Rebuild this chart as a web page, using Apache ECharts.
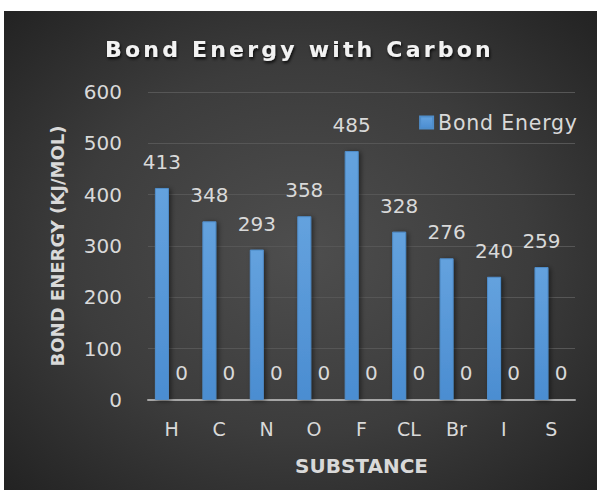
<!DOCTYPE html>
<html>
<head>
<meta charset="utf-8">
<script src="https://cdn.jsdelivr.net/npm/echarts@6/dist/echarts.min.js"></script>
<style>
  html, body { margin: 0; padding: 0; background: #ffffff; }
  #chart { width: 599px; height: 491px; }
  /* widen tracking of the title (22px) and legend (20.5px) text */
  #chart svg text[style*="22px"] { letter-spacing: 3.2px; }
  #chart svg text[style*="20.5px"] { letter-spacing: 0.8px; }
</style>
</head>
<body>
<div id="chart"></div>
<script>
// Carbon bond energies by substance (kJ/mol)
const substances = ['H', 'C', 'N', 'O', 'F', 'CL', 'Br', 'I', 'S'];
const bondEnergy = [413, 348, 293, 358, 485, 328, 276, 240, 259];
const secondSeries = [0, 0, 0, 0, 0, 0, 0, 0, 0];
const yTicks = { min: 0, max: 600, interval: 100 };

const FONT = '"DejaVu Sans", "Noto Sans", sans-serif';
const TEXT = '#d9d9d9';

const chart = echarts.init(document.getElementById('chart'), null, { renderer: 'svg' });

chart.setOption({
  backgroundColor: '#ffffff',
  animation: false,
  graphic: [{
    type: 'rect',
    z: -10,
    shape: { x: 4, y: 11, width: 593, height: 479 },
    style: {
      fill: new echarts.graphic.RadialGradient(0.5, 0.5, 0.7, [
        { offset: 0, color: '#4e4e4e' },
        { offset: 0.55, color: '#3c3c3c' },
        { offset: 1, color: '#232323' }
      ])
    }
  }],
  title: {
    text: 'Bond Energy with Carbon',
    left: 'center',
    top: 33,
    textStyle: {
      fontFamily: FONT,
      fontSize: 22,
      fontWeight: 'bold',
      color: '#f2f2f2',
      textShadowColor: 'rgba(0,0,0,0.85)',
      textShadowBlur: 3,
      textShadowOffsetX: 1,
      textShadowOffsetY: 2
    }
  },
  legend: {
    data: ['Bond Energy'],
    right: 25,
    top: 107,
    itemWidth: 13,
    itemHeight: 12,
    itemGap: 8,
    icon: 'rect',
    textStyle: { fontFamily: FONT, fontSize: 20.5, color: TEXT }
  },
  grid: { left: 148, right: 24, top: 92, bottom: 91 },
  xAxis: {
    type: 'category',
    data: substances,
    name: 'SUBSTANCE',
    nameLocation: 'middle',
    nameGap: 56,
    nameTextStyle: { fontFamily: FONT, fontSize: 20, fontWeight: 'bold', color: TEXT },
    axisLine: { lineStyle: { color: '#a6a6a6', width: 2 } },
    axisTick: { show: false },
    axisLabel: { fontFamily: FONT, fontSize: 19, color: TEXT, margin: 19 }
  },
  yAxis: {
    type: 'value',
    min: yTicks.min,
    max: yTicks.max,
    interval: yTicks.interval,
    name: 'BOND ENERGY (KJ/MOL)',
    nameLocation: 'middle',
    nameGap: 82,
    nameRotate: 90,
    nameTextStyle: { fontFamily: FONT, fontSize: 18, fontWeight: 'bold', color: TEXT },
    axisLine: { show: false },
    axisTick: { show: false },
    axisLabel: { fontFamily: FONT, fontSize: 20, color: TEXT, margin: 26 },
    splitLine: { lineStyle: { color: '#565656', width: 1 } }
  },
  series: [
    {
      name: 'Bond Energy',
      type: 'bar',
      data: bondEnergy,
      barWidth: 14,
      barGap: '40%',
      itemStyle: {
        color: new echarts.graphic.LinearGradient(0, 0, 0, 1, [
          { offset: 0, color: '#64a2de' },
          { offset: 1, color: '#4b8dd1' }
        ]),
        borderColor: '#4f8dca',
        borderWidth: 1,
        shadowColor: 'rgba(0,0,0,0.5)',
        shadowBlur: 5,
        shadowOffsetX: 2,
        shadowOffsetY: 1
      },
      label: {
        show: true,
        position: 'top',
        distance: 16,
        fontFamily: FONT,
        fontSize: 20,
        color: TEXT
      }
    },
    {
      name: 'Series 2',
      type: 'bar',
      data: secondSeries,
      barWidth: 14,
      itemStyle: { color: '#ed7d31' },
      label: {
        show: true,
        position: 'top',
        distance: 17,
        fontFamily: FONT,
        fontSize: 20,
        color: TEXT
      }
    }
  ]
});
</script>
</body>
</html>
